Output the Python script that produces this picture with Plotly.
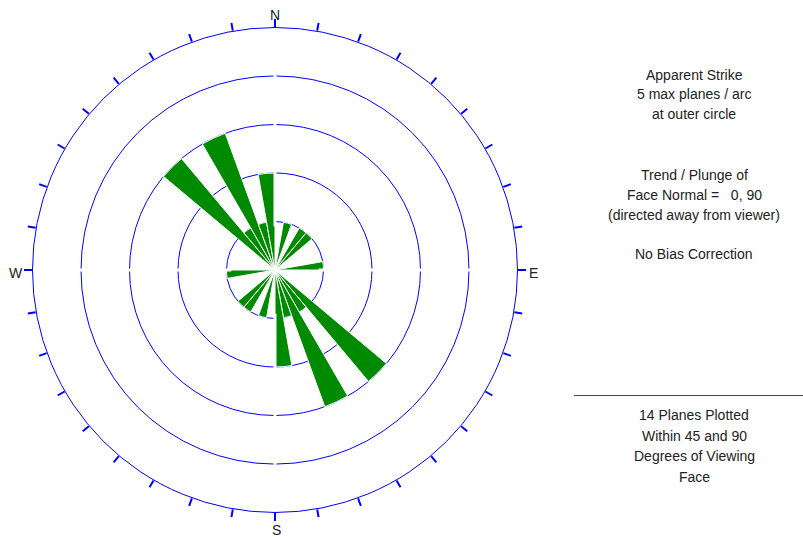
import plotly.graph_objects as go

# ---- data (apparent strike bins, 10 degree width) ----
bin_start = [10, 30, 40, 80, 130, 140, 150, 160, 170]
plane_counts = [1, 1, 1, 1, 3, 1, 3, 1, 2]
bin_width = 10
max_planes = 5

tick_angles = list(range(0, 360, 10))
cardinal_labels = {0: "N", 90: "E", 180: "S", 270: "W"}

info_lines_top = ["Apparent Strike", "5 max planes / arc", "at outer circle"]
info_lines_mid = ["Trend / Plunge of", "Face Normal =   0, 90", "(directed away from viewer)"]
info_lines_bias = ["No Bias Correction"]
info_lines_bottom = ["14 Planes Plotted", "Within 45 and 90", "Degrees of Viewing", "Face"]

# rose petals: each strike plotted in both directions
theta = [s + bin_width / 2 for s in bin_start] + [s + 180 + bin_width / 2 for s in bin_start]
r = plane_counts + plane_counts

W, H = 803, 537
BLUE = "#0000ff"
GREEN = "#008a00"
TXT = "#222222"

fig = go.Figure()

# small white breaks in the inner circles at the cardinal directions
for ang in cardinal_labels:
    fig.add_trace(go.Scatterpolar(
        r=[0.9, max_planes - 0.9], theta=[ang, ang], mode="lines",
        line=dict(color="white", width=3), hoverinfo="skip", showlegend=False))

fig.add_trace(go.Barpolar(
    r=r, theta=theta, width=[bin_width] * len(theta),
    marker=dict(color=GREEN, line=dict(color="white", width=1)),
    showlegend=False))

cx0, cx1 = 32.5, 517.5
cy0, cy1 = 27.5, 512.5
ccx, ccy = (cx0 + cx1) / 2, (cy0 + cy1) / 2
R = (cx1 - cx0) / 2

fig.update_layout(
    width=W, height=H,
    margin=dict(l=0, r=0, t=0, b=0),
    paper_bgcolor="white",
    font=dict(family="Liberation Sans, Arial, sans-serif", size=14, color=TXT),
    polar=dict(
        domain=dict(x=[cx0 / W, cx1 / W], y=[1 - cy1 / H, 1 - cy0 / H]),
        bgcolor="white",
        radialaxis=dict(range=[0, max_planes], tickvals=list(range(1, max_planes)),
                        showticklabels=False, ticks="", showline=False,
                        gridcolor=BLUE, gridwidth=1),
        angularaxis=dict(rotation=90, direction="clockwise",
                         tickmode="array", tickvals=tick_angles,
                         ticktext=[""] * len(tick_angles),
                         ticks="outside", ticklen=8, tickwidth=1.5, tickcolor=BLUE,
                         showgrid=False, showline=True, linecolor=BLUE, linewidth=1),
    ),
)

# compass labels placed just outside the outer circle
label_offset = {"N": (0, -R - 12), "S": (1, R + 17), "W": (-R - 17, 3), "E": (R + 16, 3)}
for ang, lab in cardinal_labels.items():
    dx, dy = label_offset[lab]
    fig.add_annotation(text=lab, x=(ccx + dx) / W, y=1 - (ccy + dy) / H,
                       xref="paper", yref="paper", showarrow=False,
                       xanchor="center", yanchor="middle",
                       font=dict(size=14, color=TXT))

def add_lines(lines, y_first, step=20, xc=694):
    for i, t in enumerate(lines):
        fig.add_annotation(text=t, x=xc / W, y=1 - (y_first + i * step) / H,
                           xref="paper", yref="paper", showarrow=False,
                           xanchor="center", yanchor="middle",
                           font=dict(size=14, color=TXT))

add_lines(info_lines_top, 74.5, 19.5)
add_lines(info_lines_mid, 175, 20)
add_lines(info_lines_bias, 254)
add_lines(info_lines_bottom, 415, 20.7)

fig.add_shape(type="line", xref="paper", yref="paper",
              x0=574 / W, x1=1, y0=1 - 395.5 / H, y1=1 - 395.5 / H,
              line=dict(color="#444444", width=1))

fig.write_html("out.html")
